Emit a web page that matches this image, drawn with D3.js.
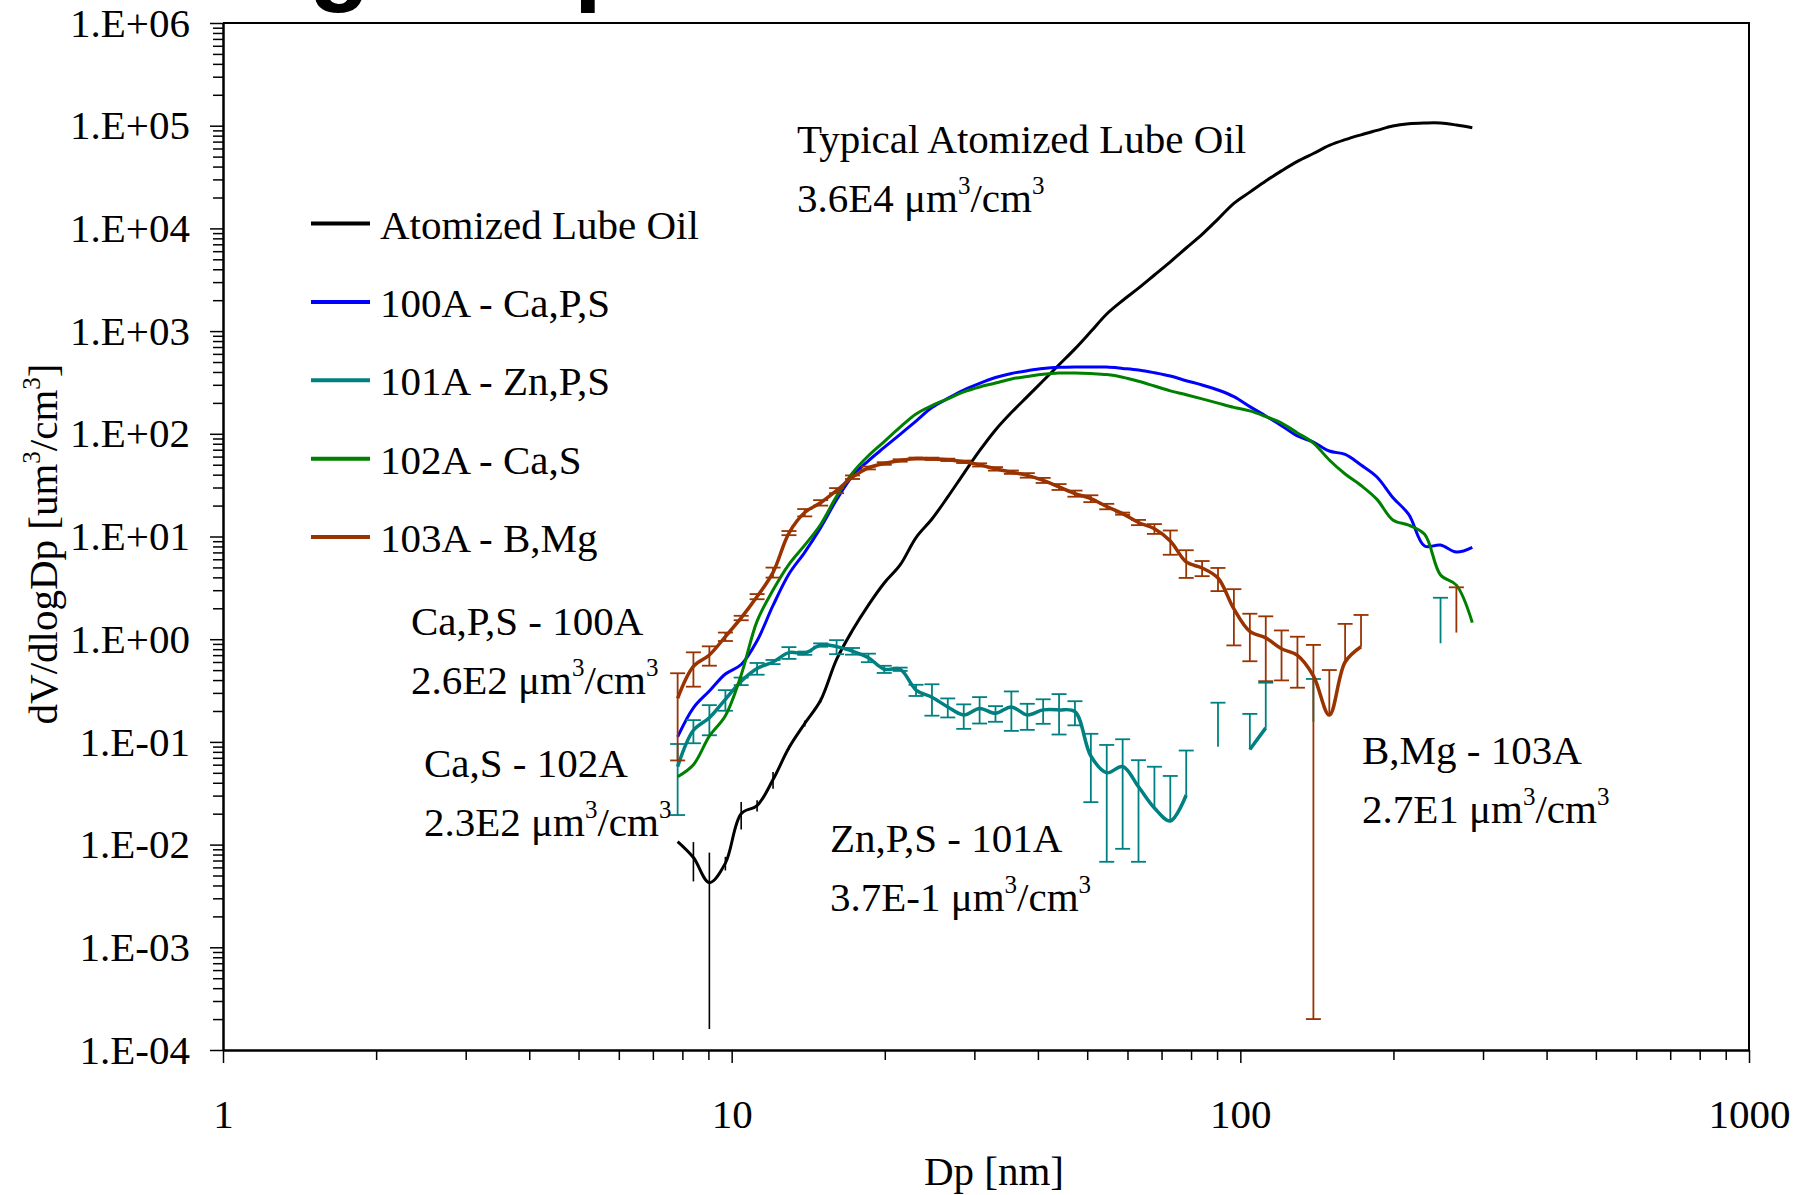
<!DOCTYPE html>
<html>
<head>
<meta charset="utf-8">
<script src="https://cdn.jsdelivr.net/npm/d3@7"></script>
<style>
body { margin: 0; background: #fff; }
svg text { font-family: "Liberation Serif", "Times New Roman", serif; fill: #000; }
</style>
</head>
<body>
<div id="chart"></div>
<script>
// particle diameter grid [nm]
var dp = [7.83, 8.41, 9.04, 9.72, 10.44, 11.22, 12.06, 12.96, 13.92, 14.96, 16.08, 17.28, 18.57, 19.95, 21.44,
    23.04, 24.76, 26.60, 28.59, 30.72, 33.01, 35.47, 38.12, 40.96, 44.02, 47.30, 50.83, 54.62, 58.70, 63.07,
    67.78, 72.83, 78.27, 84.11, 90.38, 97.12, 104.4, 112.2, 120.5, 129.5, 139.2, 149.6, 160.7, 172.7, 185.6,
    199.4, 214.3, 230.3, 247.5, 265.9, 285.8];

// dV/dlogDp [um3/cm3]
var lubeOil = [0.0107, 0.00748, 0.00426, 0.0066, 0.020, 0.024, 0.043, 0.0877, 0.151, 0.254, 0.636, 1.22, 2.15,
    3.53, 5.29, 9.76, 14.8, 24.3, 41.0, 68.4, 109, 161, 230, 329, 470, 671, 989, 1468, 1986, 2617, 3517, 4729,
    6443, 8746, 12330, 17550, 22560, 28950, 36300, 44900, 53600, 64200, 73100, 81500, 90000, 99300, 104500,
    106200, 106200, 101600, 95700];
var lubeOilErr = [0, 0.0031, 0.0041, 0.001, 0.006, 0.003, 0.008, 0.004, 0.01, 0.012, 0, 0, 0, 0, 0, 0, 0, 0,
    0, 0, 0, 0, 0, 0, 0, 0, 0, 0, 0, 0, 0, 0, 0, 0, 0, 0, 0, 0, 0, 0, 0, 0, 0, 0, 0, 0, 0, 0, 0, 0, 0];

var caPS = [0.112, 0.215, 0.313, 0.458, 0.567, 0.966, 2.13, 4.31, 7.02, 12.2, 22.8, 38.8, 54.6, 73.6, 98.9,
    133, 180, 221, 267, 310, 353, 387, 411, 432, 444, 448, 448, 446, 433, 418, 393, 365, 329, 299, 267, 230,
    184, 149, 120, 95.2, 83.2, 68.0, 62.9, 49.7, 38.0, 24.0, 16.4, 8.08, 8.26, 7.06, 7.85];

var znPS = [0.0574, 0.130, 0.172, 0.26, 0.39, 0.519, 0.60, 0.74, 0.731, 0.878, 0.847, 0.764, 0.66, 0.51, 0.51,
    0.32, 0.272, 0.219, 0.183, 0.212, 0.190, 0.219, 0.183, 0.205, 0.205, 0.197, 0.0729, 0.0501, 0.0576, 0.0366,
    0.0227, 0.0170, 0.0304, null, 0.0898, null, 0.0843, 0.137, null, null, 0.157, null, null, null, null, null,
    null, null, 0.912, null, null];
var znPSErr = [0.038, 0.033, 0.056, 0.059, 0.033, 0.068, 0.028, 0.097, 0.027, 0.033, 0.132, 0.057, 0.063, 0.041,
    0.019, 0.040, 0.092, 0.046, 0.049, 0.061, 0.033, 0.091, 0.052, 0.055, 0.087, 0.052, 0.047, 0.0433, 0.0485,
    0.0298, 0.0346, 0.0296, 0.052, null, 0.151, null, 0.103, 0.240, null, null, 0.253, null, null, null, null,
    null, null, null, 1.62, null, null];

var caS = [0.0458, 0.060, 0.114, 0.180, 0.448, 1.50, 3.01, 5.36, 8.23, 13.1, 24.6, 41.7, 61.2, 84.1, 116, 156,
    188, 219, 256, 286, 312, 342, 361, 380, 391, 391, 386, 377, 356, 325, 292, 262, 240, 219, 199, 181, 167,
    147, 127, 102, 81.3, 55.6, 40.6, 31.4, 23.0, 14.5, 12.9, 10.5, 4.22, 3.36, 1.45];

var bMg = [0.266, 0.545, 0.702, 1.06, 1.61, 2.60, 4.48, 10.8, 17.1, 21.3, 28.0, 37.8, 46.5, 51.4, 55.0, 57.5,
    57.1, 55.8, 53.4, 49.8, 45.6, 42.3, 39.4, 35.2, 30.4, 26.2, 23.4, 19.6, 16.7, 13.7, 11.9, 9.04, 5.65, 4.94,
    3.94, 1.97, 1.19, 1.03, 0.807, 0.697, 0.44, 0.183, 0.600, 0.845, null, null, null, null, null, 1.16, null];
var bMgErr = [0.20, 0.20, 0.15, 0.10, 0.08, 0.15, 0.5, 0.5, 1.4, 1.3, 1.6, 1.5, 1.5, 1.5, 1.5, 1.2, 1.5, 1.5,
    1.5, 1.8, 1.8, 1.6, 2.0, 2.0, 2.0, 1.8, 1.8, 1.2, 0.4, 0.8, 1.3, 2.4, 1.7, 0.83, 1.0, 1.1, 0.58, 0.64,
    0.41, 0.36, 0.4398, 0.318, 0.81, 0.877, null, null, null, null, null, 2.04, null];

var seriesNames = ["Atomized Lube Oil", "100A - Ca,P,S", "101A - Zn,P,S", "102A - Ca,S", "103A - B,Mg"];
var seriesColors = ["#000000", "#0000ff", "#008080", "#008000", "#993300"];

var yTickValues = [1e-4, 1e-3, 1e-2, 1e-1, 1, 1e1, 1e2, 1e3, 1e4, 1e5, 1e6];
var yTickLabels = ["1.E-04", "1.E-03", "1.E-02", "1.E-01", "1.E+00", "1.E+01", "1.E+02", "1.E+03", "1.E+04", "1.E+05", "1.E+06"];
var xTickValues = [1, 10, 100, 1000];
var xTickLabels = ["1", "10", "100", "1000"];

// annotation text: [line1, line2 number part], the unit gets added with superscripts
var notes = [
    {x: 797, y: 153, title: "Typical Atomized Lube Oil", total: "3.6E4"},
    {x: 411, y: 635, title: "Ca,P,S - 100A", total: "2.6E2"},
    {x: 424, y: 777, title: "Ca,S - 102A", total: "2.3E2"},
    {x: 830, y: 852, title: "Zn,P,S - 101A", total: "3.7E-1"},
    {x: 1362, y: 764, title: "B,Mg - 103A", total: "2.7E1"}
];

var width = 1807, height = 1195;
var plotLeft = 223, plotRight = 1749, plotTop = 23, plotBottom = 1050;
var fontSize = 41;

var svg = d3.select("#chart").append("svg")
    .attr("width", width)
    .attr("height", height);

var x = d3.scaleLog().domain([1, 1000]).range([plotLeft, plotRight]);
var y = d3.scaleLog().domain([1e-4, 1e6]).range([plotBottom, plotTop]);

// cut-off slide title above the chart
svg.append("text").attr("x", 309).attr("y", -8).text("g")
    .style("font-family", "'Liberation Sans', Arial, sans-serif").style("font-weight", "bold").style("font-size", "100px");
svg.append("text").attr("x", 574).attr("y", -8).text("p")
    .style("font-family", "'Liberation Sans', Arial, sans-serif").style("font-weight", "bold").style("font-size", "100px");

// minor ticks
var yMinor = [], xMinor = [];
yTickValues.slice(0, -1).forEach(function (d) {
    for (var k = 2; k < 10; k++) yMinor.push(d * k);
});
xTickValues.slice(0, -1).forEach(function (d) {
    for (var k = 2; k < 10; k++) xMinor.push(d * k);
});

var yAxisG = svg.append("g")
    .attr("transform", "translate(" + plotLeft + ",0)")
    .call(d3.axisLeft(y).tickValues(yTickValues).tickSize(13).tickSizeOuter(0).tickPadding(20)
        .tickFormat(function (d, i) { return yTickLabels[i]; }));
svg.append("g")
    .attr("transform", "translate(" + plotLeft + ",0)")
    .call(d3.axisLeft(y).tickValues(yMinor).tickSize(10).tickSizeOuter(0).tickFormat(""));

var xAxisG = svg.append("g")
    .attr("transform", "translate(0," + plotBottom + ")")
    .call(d3.axisBottom(x).tickValues(xTickValues).tickSize(13).tickSizeOuter(0).tickPadding(36)
        .tickFormat(function (d, i) { return xTickLabels[i]; }));
svg.append("g")
    .attr("transform", "translate(0," + plotBottom + ")")
    .call(d3.axisBottom(x).tickValues(xMinor).tickSize(10).tickSizeOuter(0).tickFormat(""));

svg.selectAll(".domain").attr("stroke", "#000").attr("stroke-width", 2);
svg.selectAll(".tick line").attr("stroke", "#000").attr("stroke-width", 1.5);
svg.selectAll(".tick text")
    .attr("font-family", "'Liberation Serif', 'Times New Roman', serif")
    .attr("font-size", fontSize)
    .attr("fill", "#000");

// frame: top and right edges
svg.append("path")
    .attr("d", "M" + plotLeft + "," + plotTop + "H" + plotRight + "V" + plotBottom)
    .attr("fill", "none")
    .attr("stroke", "#000")
    .attr("stroke-width", 2);

// axis titles
svg.append("text")
    .attr("x", (plotLeft + plotRight) / 2 + 8)
    .attr("y", 1185)
    .attr("text-anchor", "middle")
    .style("font-size", fontSize + "px")
    .text("Dp [nm]");

var yTitle = svg.append("text")
    .attr("transform", "translate(57,544) rotate(-90)")
    .attr("text-anchor", "middle")
    .style("font-size", fontSize + "px");
yTitle.append("tspan").text("dV/dlogDp [um");
yTitle.append("tspan").attr("dy", -17).style("font-size", "25px").text("3");
yTitle.append("tspan").attr("dy", 17).text("/cm");
yTitle.append("tspan").attr("dy", -17).style("font-size", "25px").text("3");
yTitle.append("tspan").attr("dy", 17).text("]");

// plot area
svg.append("clipPath").attr("id", "plotClip")
    .append("rect")
    .attr("x", plotLeft).attr("y", plotTop)
    .attr("width", plotRight - plotLeft).attr("height", plotBottom - plotTop);
var plot = svg.append("g").attr("clip-path", "url(#plotClip)");

function drawErrorBars(values, errs, color, capHalf, strokeWidth) {
    var pts = dp.map(function (d, i) {
        return {dp: d, v: values[i], e: errs[i]};
    }).filter(function (p) { return p.v != null && p.e; });

    var g = plot.append("g")
        .attr("stroke", color)
        .attr("stroke-width", strokeWidth)
        .attr("fill", "none");

    pts.forEach(function (p) {
        var cx = x(p.dp);
        var top = y(p.v + p.e);
        var hasLow = p.v - p.e > 0;   // a log axis can't show the lower bar otherwise
        var bot = hasLow ? y(p.v - p.e) : y(p.v);
        g.append("line").attr("x1", cx).attr("x2", cx).attr("y1", top).attr("y2", bot);
        if (capHalf) {
            g.append("line").attr("x1", cx - capHalf).attr("x2", cx + capHalf).attr("y1", top).attr("y2", top);
            if (hasLow)
                g.append("line").attr("x1", cx - capHalf).attr("x2", cx + capHalf).attr("y1", bot).attr("y2", bot);
        }
    });
}

function drawSeries(values, color, lineWidth) {
    var line = d3.line()
        .defined(function (d) { return d[1] != null; })
        .x(function (d) { return x(d[0]); })
        .y(function (d) { return y(d[1]); })
        .curve(d3.curveCatmullRom.alpha(0.5));
    plot.append("path")
        .datum(dp.map(function (d, i) { return [d, values[i]]; }))
        .attr("d", line)
        .attr("fill", "none")
        .attr("stroke", color)
        .attr("stroke-width", lineWidth)
        .attr("stroke-linejoin", "round");
}

drawErrorBars(lubeOil, lubeOilErr, seriesColors[0], 0, 1.6);
drawSeries(lubeOil, seriesColors[0], 3);
drawSeries(caPS, seriesColors[1], 3);
drawErrorBars(znPS, znPSErr, seriesColors[2], 7.5, 1.8);
drawSeries(znPS, seriesColors[2], 3.5);
drawSeries(caS, seriesColors[3], 3);
drawErrorBars(bMg, bMgErr, seriesColors[4], 7.5, 1.8);
drawSeries(bMg, seriesColors[4], 3.5);

// legend
var legend = svg.selectAll(".legend")
    .data(seriesNames)
    .enter()
    .append("g")
    .attr("class", "legend")
    .attr("transform", function (d, i) { return "translate(311," + (223.5 + i * 78.4) + ")"; });
legend.append("line")
    .attr("x1", 0).attr("x2", 59)
    .attr("y1", 0).attr("y2", 0)
    .attr("stroke", function (d, i) { return seriesColors[i]; })
    .attr("stroke-width", 4);
legend.append("text")
    .attr("x", 69)
    .attr("y", 15)
    .style("font-size", fontSize + "px")
    .text(function (d) { return d; });

// annotations with total volume
notes.forEach(function (n) {
    svg.append("text")
        .attr("x", n.x).attr("y", n.y)
        .style("font-size", fontSize + "px")
        .text(n.title);
    var t = svg.append("text")
        .attr("x", n.x).attr("y", n.y + 59)
        .style("font-size", fontSize + "px");
    t.append("tspan").text(n.total + " \u03bcm");
    t.append("tspan").attr("dy", -18).style("font-size", "25px").text("3");
    t.append("tspan").attr("dy", 18).text("/cm");
    t.append("tspan").attr("dy", -18).style("font-size", "25px").text("3");
});
</script>
</body>
</html>
